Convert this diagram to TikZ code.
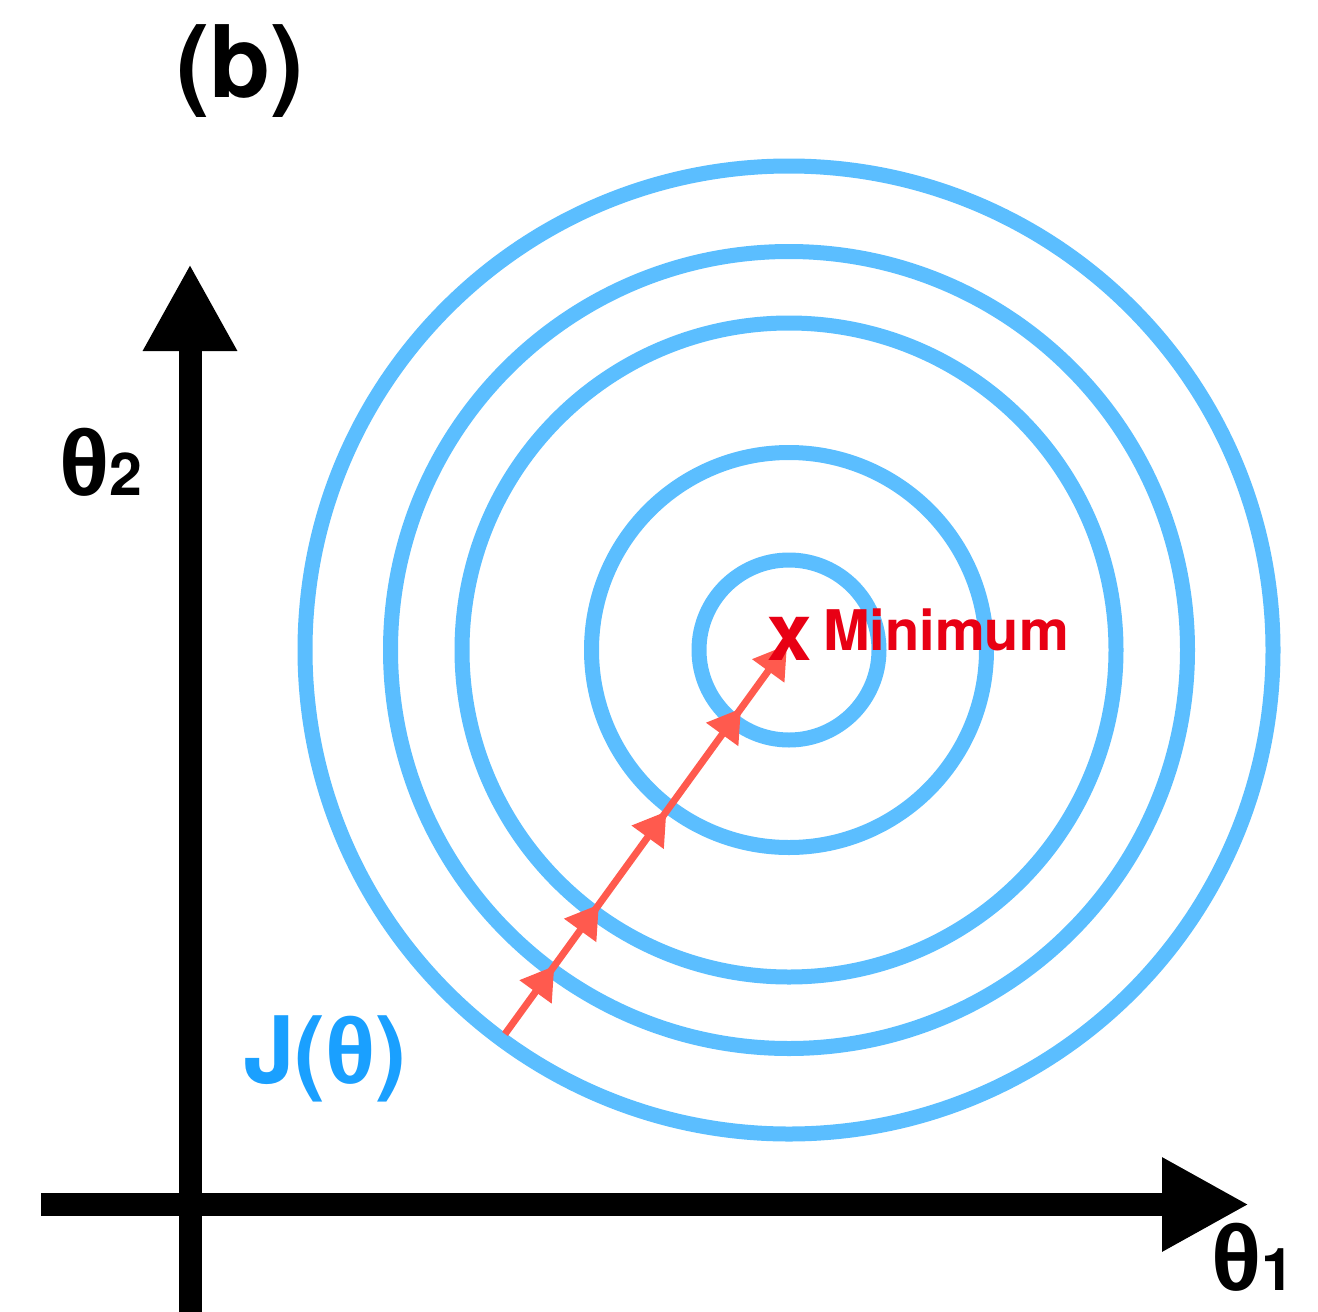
\documentclass[tikz,border=0pt]{standalone}
\usepackage{fontspec}
\setmainfont{TeX Gyre Heros}
\newfontfamily\thfont{Liberation Sans}
\usetikzlibrary{arrows.meta,decorations.markings}
\definecolor{ring}{RGB}{91,190,255}
\definecolor{jblue}{RGB}{26,160,255}
\definecolor{pathred}{RGB}{255,90,78}
\definecolor{minred}{RGB}{232,0,20}
\newcommand{\fsz}[1]{\fontsize{#1}{#1}\selectfont\bfseries}
\newcommand{\thchar}{{\thfont\bfseries θ}}
\tikzset{redtip/.tip={Triangle[length=32pt,width=38pt]},
         axtip/.tip={Triangle[length=87pt,width=88pt]}}
\begin{document}
\begin{tikzpicture}[x=1pt,y=-1pt,
  axis/.style={line width=23pt,-{axtip}},
  ringline/.style={draw=ring,line width=15pt},
  lbl/.style={inner sep=0pt,outer sep=0pt}]
\useasboundingbox (0,0) rectangle (1318,1312);
% axes
\coordinate (ybot) at (190,1312);
\coordinate (ytop) at (190,264);
\coordinate (xleft) at (41,1204.5);
\coordinate (xright) at (1249,1204.5);
\draw[axis] (ybot) -- (ytop);
\draw[axis] (xleft) -- (xright);
% contour rings
\coordinate (c) at (789,650);
\foreach \r in {484,398.5,327,197.5,90}{
  \draw[ringline] (c) circle[radius=\r];
}
% gradient descent path
\coordinate (start) at (505,1034);
\coordinate (end) at (787,645);
\draw[pathred,line width=7pt,
  postaction={decorate,decoration={markings,
    mark=at position 84pt with {\arrow[pathred]{redtip}},
    mark=at position 160pt with {\arrow[pathred]{redtip}},
    mark=at position 275pt with {\arrow[pathred]{redtip}},
    mark=at position 402pt with {\arrow[pathred]{redtip}}}},
  -{redtip}] (start) -- (end);
% labels
\node[lbl,anchor=base,font=\fsz{100}] (b) at (240,97) {(b)};
\node[lbl,anchor=base west] (th2) at (59,495) {{\fsz{93}\thchar}{\fsz{59}2}};
\node[lbl,anchor=base west] (th1) at (1211,1290) {{\fsz{93}\thchar}{\fsz{59}1}};
\node[lbl,anchor=base,font=\fsz{93},text=jblue] (J) at (325,1083) {J(\thchar)};
\node[lbl,anchor=base,font=\fsz{80},text=minred] (xmark) at (790,660) {x};
\node[lbl,anchor=base west,font=\fsz{56},text=minred] (min) at (823,650) {Minimum};
\end{tikzpicture}
\end{document}
